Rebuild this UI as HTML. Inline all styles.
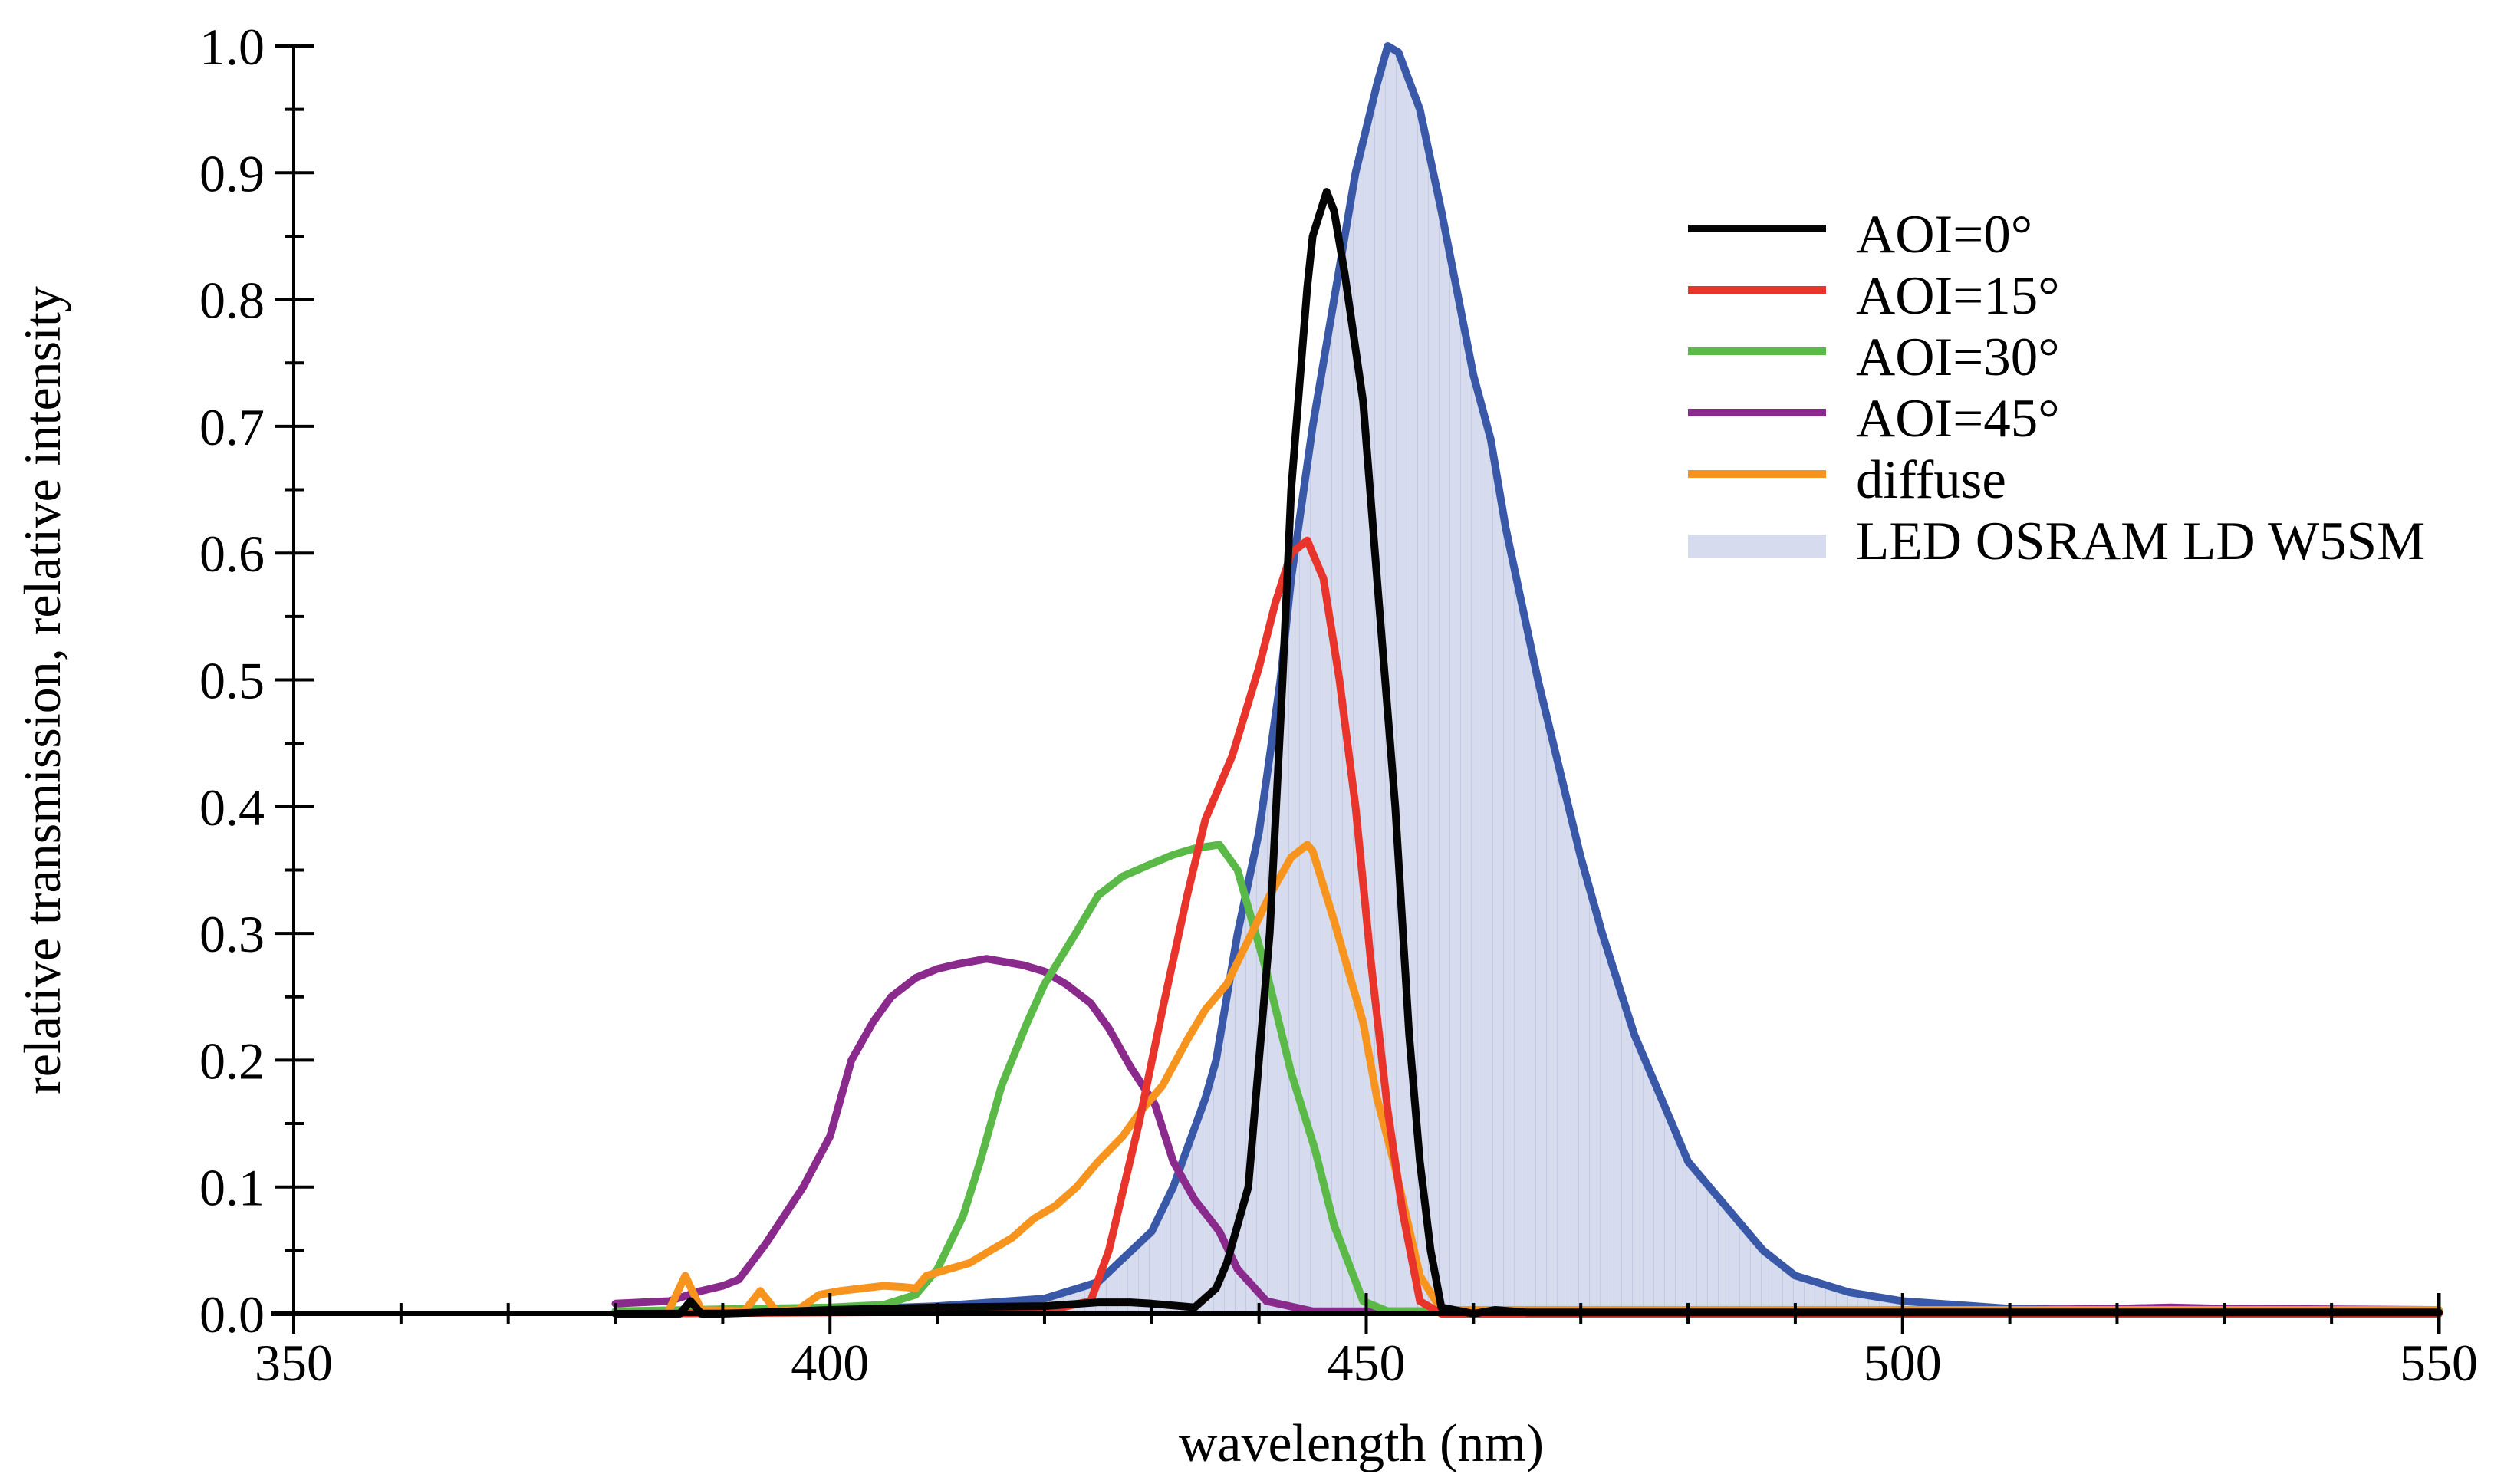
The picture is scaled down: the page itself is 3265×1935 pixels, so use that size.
<!DOCTYPE html>
<html><head><meta charset="utf-8">
<style>
html,body{margin:0;padding:0;background:#fff;}
svg{display:block;font-family:"Liberation Serif",serif;}
</style></head>
<body>
<svg id="chart" width="3265" height="1935" viewBox="0 0 3265 1935" xmlns="http://www.w3.org/2000/svg">
<defs>
<pattern id="hatch" width="14" height="20" patternUnits="userSpaceOnUse">
<rect width="14" height="20" fill="#d6dced"/>
<line x1="0" y1="0" x2="0" y2="20" stroke="#c3cbe2" stroke-width="2"/>
</pattern>
</defs>
<g id="plot"></g>
<g id="axes"></g>
<text x="1775" y="1905" font-size="70" text-anchor="middle">wavelength (nm)</text>
<text transform="translate(78,900) rotate(-90)" font-size="68" text-anchor="middle">relative transmission, relative intensity</text>
<g id="legend"></g>
</svg>
<script>
const xTicks = [350, 400, 450, 500, 550];
const yTicks = [0.0, 0.1, 0.2, 0.3, 0.4, 0.5, 0.6, 0.7, 0.8, 0.9, 1.0];
const seriesNames = ["AOI=0°", "AOI=15°", "AOI=30°", "AOI=45°", "diffuse", "LED OSRAM LD W5SM"];

const ledX = [380,385,400,410,420,425,430,432,435,436,438,440,442,443,445,447,449,451,452,453,455,457,460,461.6,463,466,470,472,475,480,482.5,487,490,495,500,510,530,550];
const ledY = [0.002,0.002,0.003,0.006,0.012,0.025,0.065,0.1,0.17,0.2,0.3,0.38,0.5,0.58,0.7,0.8,0.9,0.97,1.0,0.995,0.95,0.87,0.74,0.69,0.62,0.5,0.36,0.3,0.22,0.12,0.095,0.05,0.03,0.017,0.01,0.004,0.002,0.001];

const blackX = [380,386,387,388,390,400,410,420,425,428,430,434,436,437,439,441,442.2,443,444.5,445,446.3,447,448,449.7,451,452.7,454,455,456,457,460,462,465,550];
const blackY = [0,0,0.01,0,0,0.003,0.005,0.006,0.009,0.009,0.008,0.005,0.02,0.04,0.1,0.3,0.5,0.65,0.81,0.85,0.885,0.87,0.82,0.72,0.58,0.4,0.22,0.12,0.05,0.005,0,0.003,0.001,0.001];

const redX = [380,420,424.3,426,428.8,431,433.3,435,437.5,440,441.5,443,444.5,446,447.5,449,450.4,452,453.4,455,457,550];
const redY = [0,0.002,0.01,0.05,0.15,0.24,0.33,0.39,0.44,0.51,0.56,0.6,0.61,0.58,0.5,0.4,0.28,0.16,0.08,0.01,0,0];

const greenX = [380,400,405,408,410,412.4,414,416,418.4,420,422.9,425,427.3,430,432,434,436.3,438,440.7,443,445.2,447,449.7,452,550];
const greenY = [0.002,0.005,0.007,0.015,0.035,0.077,0.12,0.18,0.23,0.26,0.3,0.33,0.345,0.355,0.362,0.367,0.37,0.35,0.27,0.19,0.13,0.07,0.01,0.002,0.002];

const purpleX = [380,385,388,390,391.5,394,397.5,400,402,404,405.7,408,410,412,414.6,416,418,420,422,424.3,426,428,430.3,432,434,436.3,438,440.7,445,500,520,525,530,550];
const purpleY = [0.008,0.01,0.018,0.022,0.027,0.055,0.1,0.14,0.2,0.23,0.25,0.265,0.272,0.276,0.28,0.278,0.275,0.27,0.26,0.245,0.225,0.195,0.165,0.12,0.09,0.065,0.035,0.01,0.002,0.002,0.004,0.005,0.004,0.003];

const orangeX = [385,386.5,388,392,393.5,395,397,399,401,403,405,407,408,409,411,413,415,417,419,421,423,425,427.3,429,431,433.3,435,437,439.3,441,443,444.5,445,447,449.7,451,452.7,455,457,550];
const orangeY = [0.003,0.03,0.003,0.002,0.018,0.002,0.003,0.015,0.018,0.02,0.022,0.021,0.02,0.03,0.035,0.04,0.05,0.06,0.075,0.085,0.1,0.12,0.14,0.16,0.18,0.216,0.24,0.26,0.3,0.33,0.36,0.37,0.365,0.31,0.23,0.17,0.115,0.03,0.003,0.003];

const X0 = 383, X1 = 3180, Y0 = 1713, Y1 = 60;
function xs(v){ return X0 + (v - 350) / 200 * (X1 - X0); }
function ys(v){ return Y0 - v * (Y0 - Y1); }
const NS = "http://www.w3.org/2000/svg";
function mk(tag, attrs, parent){
  const e = document.createElementNS(NS, tag);
  for (const k in attrs) e.setAttribute(k, attrs[k]);
  parent.appendChild(e);
  return e;
}
function pathD(xa, ya){
  return xa.map((x,i)=>(i?"L":"M")+xs(x).toFixed(1)+","+ys(ya[i]).toFixed(1)).join(" ");
}
const plot = document.getElementById("plot");
const axes = document.getElementById("axes");
const legend = document.getElementById("legend");

const fill = mk("path", {d: pathD(ledX, ledY) + ` L${xs(ledX[ledX.length-1])},${Y0} L${xs(ledX[0])},${Y0} Z`, fill: "url(#hatch)", stroke: "none"}, plot);



const lines = [
  {x: ledX, y: ledY, c: "#3a58a8", n: "led-spectrum-line"},
  {x: purpleX, y: purpleY, c: "#8b2a8d", n: "aoi-45-line"},
  {x: greenX, y: greenY, c: "#5ab947", n: "aoi-30-line"},
  {x: orangeX, y: orangeY, c: "#f7941d", n: "diffuse-line"},
  {x: redX, y: redY, c: "#e8342a", n: "aoi-15-line"},
  {x: blackX, y: blackY, c: "#050505", n: "aoi-0-line"}
];
lines.forEach(s=>{
  const p = mk("path", {d: pathD(s.x, s.y), fill: "none", stroke: s.c, "stroke-width": 10, "stroke-linejoin": "round", "stroke-linecap": "round"}, plot);
  
  
});

const xa = mk("line", {x1: X0-30, y1: Y0, x2: X1, y2: Y0, stroke: "#000", "stroke-width": 6}, axes);


const ya = mk("line", {x1: X0, y1: Y1, x2: X0, y2: Y0+26, stroke: "#000", "stroke-width": 4}, axes);


for (let v = 360; v < 550; v += 10){
  const major = v % 50 === 0;
  const t = mk("line", {x1: xs(v), y1: major ? Y0-27 : Y0-14, x2: xs(v), y2: major ? Y0+26 : Y0+13, stroke: "#000", "stroke-width": 4}, axes);
  
  
}
const xe = mk("line", {x1: X1, y1: Y0-27, x2: X1, y2: Y0+26, stroke: "#000", "stroke-width": 5}, axes);


xTicks.forEach(v=>{
  const t = mk("text", {x: xs(v), y: 1800, "font-size": 68, "text-anchor": "middle"}, axes);
  t.textContent = v;
  
  
});
yTicks.forEach(v=>{
  const t = mk("line", {x1: X0-25, y1: ys(v), x2: X0+27, y2: ys(v), stroke: "#000", "stroke-width": 4}, axes);
  
  
  const l = mk("text", {x: 345, y: ys(v)+24, "font-size": 68, "text-anchor": "end"}, axes);
  l.textContent = v.toFixed(1);
  
  
});
for (let i = 0; i < 10; i++){
  const v = i/10 + 0.05;
  const t = mk("line", {x1: X0-12, y1: ys(v), x2: X0+13, y2: ys(v), stroke: "#000", "stroke-width": 4}, axes);
  
  
}

const legColors = ["#050505","#e8342a","#5ab947","#8b2a8d","#f7941d"];
seriesNames.forEach((name,i)=>{
  const cy = 298 + i*80;
  let sw;
  if (i < 5) sw = mk("rect", {x: 2201, y: cy-5, width: 180, height: 10, fill: legColors[i]}, legend);
  else sw = mk("rect", {x: 2201, y: 697, width: 180, height: 31, fill: "#d6dced"}, legend);
  
  
  const t = mk("text", {x: 2420, y: cy+31, "font-size": 71}, legend);
  t.textContent = name;
  
  
});
</script>
</body></html>
